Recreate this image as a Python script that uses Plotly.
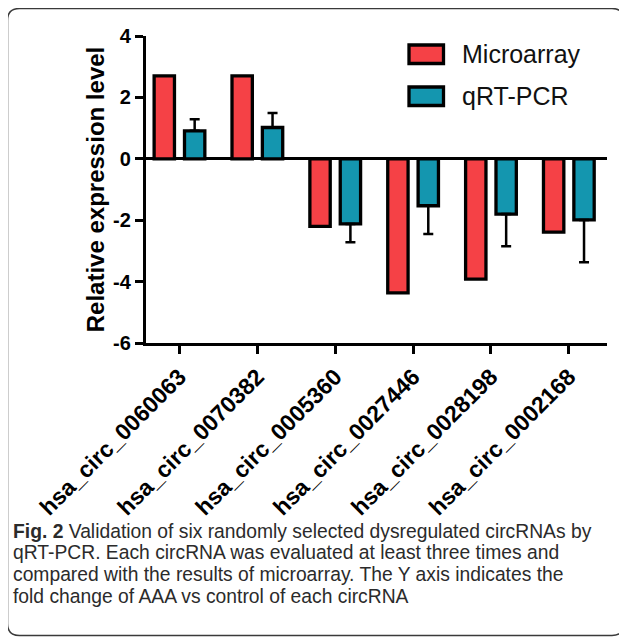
import plotly.graph_objects as go

categories = ["hsa_circ_0060063", "hsa_circ_0070382", "hsa_circ_0005360",
              "hsa_circ_0027446", "hsa_circ_0028198", "hsa_circ_0002168"]
microarray = [2.70, 2.70, -2.20, -4.37, -3.92, -2.39]
qrtpcr = [0.91, 1.02, -2.12, -1.53, -1.80, -1.99]
qrtpcr_err = [0.38, 0.47, 0.60, 0.92, 1.05, 1.38]
series_names = ["Microarray", "qRT-PCR"]
y_ticks = [-6, -4, -2, 0, 2, 4]
y_tick_labels = ["-6", "-4", "-2", "0", "2", "4"]
caption_lines = [
    "<b>Fig. 2</b> Validation of six randomly selected dysregulated circRNAs by",
    "qRT-PCR. Each circRNA was evaluated at least three times and",
    "compared with the results of microarray. The Y axis indicates the",
    "fold change of AAA vs control of each circRNA",
]

RED = "#F54146"
TEAL = "#1496AF"
OFF = 8  # page body margin
W, H = 627 - OFF, 637 - OFF
L, R, T, B = 146 - OFF, 20, 36 - OFF, 294
PW, PH = W - L - R, H - T - B


def px(x):
    # page pixel -> paper coordinate
    return (x - OFF - L) / PW


def py(y):
    return (H - B - (y - OFF)) / PH


err_plus = [e if v > 0 else 0 for v, e in zip(qrtpcr, qrtpcr_err)]
err_minus = [e if v < 0 else 0 for v, e in zip(qrtpcr, qrtpcr_err)]

fig = go.Figure()
fig.add_trace(go.Bar(x=categories, y=microarray, name=series_names[0],
                     marker=dict(color=RED, line=dict(color="black", width=3.3))))
fig.add_trace(go.Bar(x=categories, y=qrtpcr, name=series_names[1],
                     marker=dict(color=TEAL, line=dict(color="black", width=3.3)),
                     error_y=dict(type="data", symmetric=False, array=err_plus,
                                  arrayminus=err_minus, color="black",
                                  thickness=2.5, width=5)))

shapes = []
annotations = []
# legend (manual, larger swatches)
for i, (name, col) in enumerate(zip(series_names, [RED, TEAL])):
    y0 = 45 + i * 42
    shapes.append(dict(type="rect", xref="paper", yref="paper",
                       x0=px(409), x1=px(443.5), y0=py(y0), y1=py(y0 + 18.5),
                       fillcolor=col, line=dict(color="black", width=3.3)))
    annotations.append(dict(xref="paper", yref="paper", x=px(460), y=py(y0 + 9),
                            xanchor="left", yanchor="middle", showarrow=False,
                            text=name,
                            font=dict(family="Arial, Liberation Sans", size=25, color="#111")))

# outer frame with rounded corners
x0, x1, y0, y1, r = 7.5, 624, 8.5, 635.5, 12
path = (f"M {px(x0)},{py(y0 + r)} Q {px(x0)},{py(y0)} {px(x0 + r)},{py(y0)} "
        f"L {px(x1 - r)},{py(y0)} Q {px(x1)},{py(y0)} {px(x1)},{py(y0 + r)} "
        f"L {px(x1)},{py(y1 - r)} Q {px(x1)},{py(y1)} {px(x1 - r)},{py(y1)} "
        f"L {px(x0 + r)},{py(y1)} Q {px(x0)},{py(y1)} {px(x0)},{py(y1 - r)} Z")
shapes.append(dict(type="path", xref="paper", yref="paper", path=path,
                   line=dict(color="#3a3a3a", width=1.5)))

# caption lines
for i, ln in enumerate(caption_lines):
    annotations.append(dict(xref="paper", yref="paper", x=px(11), y=py(531 + i * 21.8),
                            xanchor="left", yanchor="middle", align="left", showarrow=False,
                            text=ln,
                            font=dict(family="Liberation Sans, Arial", size=19.3, color="#2b2b2b")))

fig.update_layout(
    width=W, height=H,
    margin=dict(l=L, r=R, t=T, b=B, pad=0),
    paper_bgcolor="white", plot_bgcolor="white",
    barmode="group", bargap=0.22, bargroupgap=0.33,
    showlegend=False,
    shapes=shapes, annotations=annotations,
    font=dict(family="Arial, Liberation Sans", color="black"),
)
fig.update_xaxes(
    range=[-0.43, 5.49], showline=True, linecolor="black", linewidth=3.3,
    ticks="outside", ticklen=8, tickwidth=3, tickcolor="black",
    tickangle=-45, showgrid=False, zeroline=False,
    tickfont=dict(family="Arial, Liberation Sans", size=23, color="black", weight="bold"),
)
fig.update_yaxes(
    range=[-6, 4], tickvals=y_ticks, ticktext=y_tick_labels,
    showline=True, linecolor="black", linewidth=3.3,
    ticks="outside", ticklen=8, tickwidth=3, tickcolor="black",
    showgrid=False, zeroline=True, zerolinecolor="black", zerolinewidth=3.3,
    tickfont=dict(family="Arial, Liberation Sans", size=20, color="black", weight="bold"),
    title=dict(text="Relative expression level", standoff=2,
               font=dict(family="Arial, Liberation Sans", size=24, color="black", weight="bold")),
)

fig.write_html("out.html")
